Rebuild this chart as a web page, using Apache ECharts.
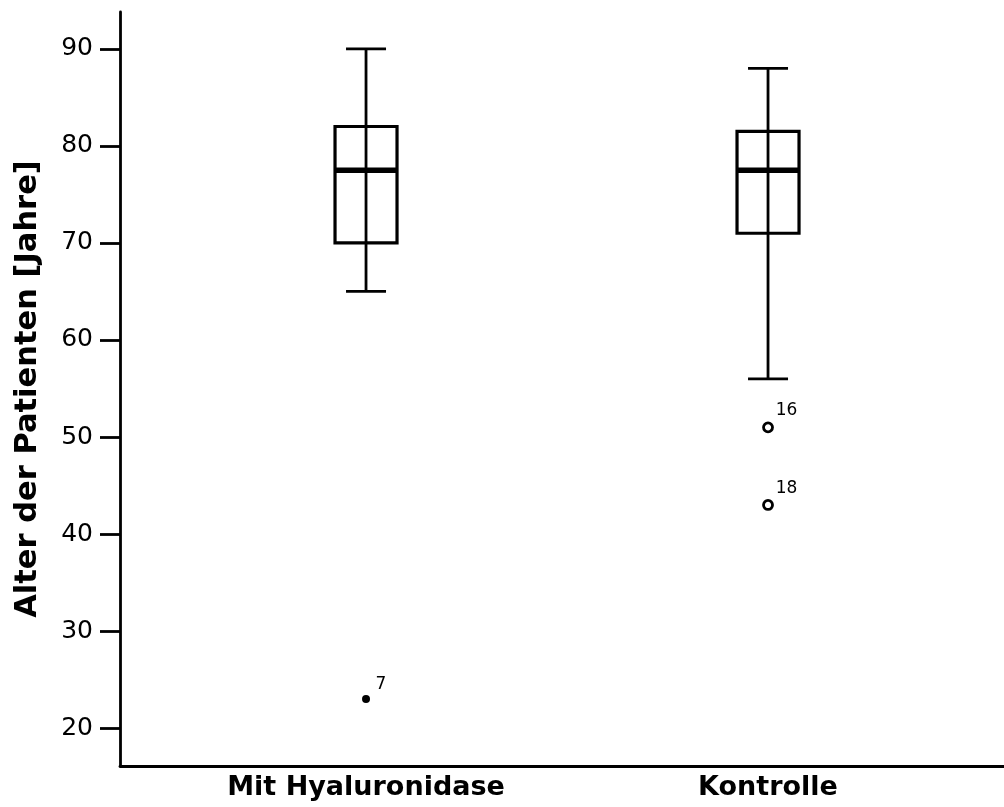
<!DOCTYPE html>
<html>
<head>
<meta charset="utf-8">
<script src="https://cdn.jsdelivr.net/npm/echarts@6/dist/echarts.min.js"></script>
<style>
  html, body { margin: 0; padding: 0; background: #fff; }
  #chart { width: 1004px; height: 807px; }
</style>
</head>
<body>
<div id="chart"></div>
<script>
// Groups and box statistics (age in years)
const categories = ['Mit Hyaluronidase', 'Kontrolle'];
const whiskerLow = [65, 56];
const quartile1 = [70, 71];
const medians = [77.5, 77.5];
const quartile3 = [82, 81.5];
const whiskerHigh = [90, 88];

// Outliers (circles) and extreme values (filled), with case numbers
const outlierGroup = [2, 2];
const outlierValue = [51, 43];
const outlierCase = ['16', '18'];
const extremeGroup = [1];
const extremeValue = [23];
const extremeCase = ['7'];

const yTicks = [20, 30, 40, 50, 60, 70, 80, 90];

const boxRows = categories.map((c, i) => [
  i + 1, whiskerLow[i], quartile1[i], medians[i], quartile3[i], whiskerHigh[i]
]);
const outlierPoints = outlierValue.map((v, i) => ({ value: [outlierGroup[i], v], name: outlierCase[i] }));
const extremePoints = extremeValue.map((v, i) => ({ value: [extremeGroup[i], v], name: extremeCase[i] }));

const FONT = "'DejaVu Sans', Verdana, sans-serif";

function renderBox(params, api) {
  const x = api.value(0);
  const lo = api.coord([x, api.value(1)]);
  const q1 = api.coord([x, api.value(2)]);
  const md = api.coord([x, api.value(3)]);
  const q3 = api.coord([x, api.value(4)]);
  const hi = api.coord([x, api.value(5)]);
  const half = 31, cap = 20;
  const stroke = { stroke: '#000', lineWidth: 2.8 };
  return {
    type: 'group',
    children: [
      { type: 'rect', shape: { x: lo[0] - half, y: q3[1], width: half * 2, height: q1[1] - q3[1] },
        style: { fill: '#fff', stroke: '#000', lineWidth: 3.2 } },
      { type: 'line', shape: { x1: lo[0], y1: lo[1], x2: hi[0], y2: hi[1] }, style: stroke },
      { type: 'line', shape: { x1: lo[0] - cap, y1: lo[1], x2: lo[0] + cap, y2: lo[1] }, style: stroke },
      { type: 'line', shape: { x1: hi[0] - cap, y1: hi[1], x2: hi[0] + cap, y2: hi[1] }, style: stroke },
      { type: 'line', shape: { x1: md[0] - half, y1: md[1], x2: md[0] + half, y2: md[1] },
        style: { stroke: '#000', lineWidth: 5.5 } }
    ]
  };
}

const caseLabel = {
  show: true,
  formatter: '{b}',
  position: [13.5, -2],
  align: 'left',
  verticalAlign: 'bottom',
  color: '#000',
  fontSize: 17,
  fontFamily: FONT
};

const chart = echarts.init(document.getElementById('chart'), null, { renderer: 'canvas' });
chart.setOption({
  backgroundColor: '#fff',
  animation: false,
  grid: { left: 120, right: 0, top: 12, bottom: 41, containLabel: false },
  xAxis: {
    type: 'value',
    min: 0.388,
    max: 2.587,
    splitLine: { show: false },
    axisLine: { show: true, onZero: false, lineStyle: { color: '#000', width: 2.8 } },
    axisTick: { show: false },
    axisLabel: {
      customValues: [1, 2],
      formatter: v => categories[Math.round(v) - 1] || '',
      margin: 8,
      color: '#000',
      fontSize: 27,
      fontWeight: 'bold',
      fontFamily: FONT
    }
  },
  yAxis: {
    type: 'value',
    min: 16.1,
    max: 93.8,
    name: 'Alter der Patienten [Jahre]',
    nameLocation: 'middle',
    nameGap: 76,
    nameTextStyle: { color: '#000', fontSize: 30.5, fontWeight: 'bold', fontFamily: FONT },
    splitLine: { show: false },
    axisLine: { show: true, onZero: false, lineStyle: { color: '#000', width: 2.8 } },
    axisTick: { show: true, customValues: yTicks, length: 20, lineStyle: { color: '#000', width: 2.8 } },
    axisLabel: { customValues: yTicks, margin: 27, color: '#000', fontSize: 25, fontFamily: FONT }
  },
  series: [
    {
      type: 'custom',
      renderItem: renderBox,
      encode: { x: 0, y: [1, 2, 3, 4, 5] },
      data: boxRows,
      z: 2
    },
    {
      type: 'scatter',
      data: outlierPoints,
      symbol: 'circle',
      symbolSize: 9,
      itemStyle: { color: '#fff', borderColor: '#000', borderWidth: 2.8, opacity: 1 },
      label: caseLabel,
      z: 3
    },
    {
      type: 'scatter',
      data: extremePoints,
      symbol: 'circle',
      symbolSize: 8,
      itemStyle: { color: '#000', opacity: 1 },
      label: caseLabel,
      z: 3
    }
  ]
});
</script>
</body>
</html>
